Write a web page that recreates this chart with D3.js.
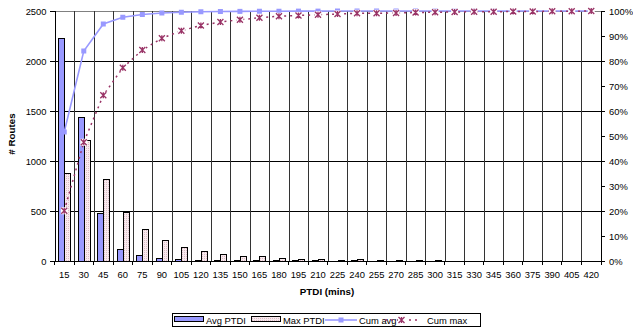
<!DOCTYPE html>
<html>
<head>
<meta charset="utf-8">
<script src="https://cdn.jsdelivr.net/npm/d3@7"></script>
<style>
  body { margin: 0; background: #fff; }
  text { font-family: "Liberation Sans", Arial, sans-serif; fill: #000; }
</style>
</head>
<body>
<svg id="chart" width="633" height="331"></svg>
<script>
// PTDI buckets (mins)
const categories = [15, 30, 45, 60, 75, 90, 105, 120, 135, 150, 165, 180, 195, 210,
  225, 240, 255, 270, 285, 300, 315, 330, 345, 360, 375, 390, 405, 420];

// route counts per bucket
const avgPTDI = [2230, 1437, 477, 120, 57, 27, 17, 6, 4, 3, 2, 2, 1, 1,
  0, 1, 0, 0, 0, 0, 0, 0, 0, 0, 0, 0, 0, 0];
const maxPTDI = [877, 1203, 817, 487, 317, 207, 133, 93, 67, 43, 47, 27, 15, 15,
  5, 15, 5, 5, 5, 5, 0, 0, 0, 0, 0, 0, 0, 0];

// cumulative share (%)
const cumAvg = [51.6, 84, 94.8, 97.5, 98.6, 99.2, 99.5, 99.7, 99.8, 99.85, 99.9, 99.9, 99.95, 99.95,
  100, 100, 100, 100, 100, 100, 100, 100, 100, 100, 100, 100, 100, 100];
const cumMax = [20.1, 47.5, 66.3, 77.3, 84.4, 89.1, 92.1, 94.2, 95.6, 96.5, 97.3, 97.9, 98.2, 98.5,
  98.8, 99.1, 99.1, 99.2, 99.4, 99.5, 99.6, 99.7, 99.7, 99.8, 99.8, 99.9, 99.9, 100];

const leftTicks = [0, 500, 1000, 1500, 2000, 2500];
const rightTicks = d3.range(0, 101, 10);

const svg = d3.select("#chart");
const FONT = 9.4;
const pLeft = 54.5, pRight = 601, pTop = 11, pBottom = 261;

const x = d3.scaleBand().domain(categories).range([pLeft, pRight]).paddingInner(0).paddingOuter(0);
const y = d3.scaleLinear().domain([0, 2500]).range([pBottom, pTop]);
const yPct = d3.scaleLinear().domain([0, 100]).range([pBottom, pTop]);

// dotted pink fill for max bars
const defs = svg.append("defs");
const pat = defs.append("pattern").attr("id", "dots")
  .attr("width", 2).attr("height", 2).attr("patternUnits", "userSpaceOnUse");
pat.append("rect").attr("width", 2).attr("height", 2).attr("fill", "#f8eaee");
pat.append("rect").attr("width", 1).attr("height", 1).attr("fill", "#dcbcc6");

// gridlines
const grid = svg.append("g").attr("shape-rendering", "crispEdges");
grid.selectAll("line.h").data(leftTicks.slice(1)).join("line")
  .attr("x1", pLeft).attr("x2", pRight)
  .attr("y1", d => Math.round(y(d)) + 0.5).attr("y2", d => Math.round(y(d)) + 0.5)
  .attr("stroke", d => d === 2500 ? "#808080" : "#000");
grid.selectAll("line.v").data(categories.slice(1)).join("line")
  .attr("x1", d => Math.round(x(d)) + 0.5).attr("x2", d => Math.round(x(d)) + 0.5)
  .attr("y1", pTop).attr("y2", pBottom)
  .attr("stroke", "#333");

// bars
const bw = 6;
const bars = svg.append("g").attr("shape-rendering", "crispEdges");
bars.selectAll("rect.avg").data(categories).join("rect")
  .attr("x", d => Math.round(x(d) + x.bandwidth() / 2 - bw) + 0.5)
  .attr("y", (d, i) => y(avgPTDI[i]))
  .attr("width", bw)
  .attr("height", (d, i) => pBottom - y(avgPTDI[i]))
  .attr("fill", "#9999ff").attr("stroke", "#000").attr("stroke-width", 1)
  .style("display", (d, i) => avgPTDI[i] > 0 ? null : "none");
bars.selectAll("rect.max").data(categories).join("rect")
  .attr("x", d => Math.round(x(d) + x.bandwidth() / 2) + 0.5)
  .attr("y", (d, i) => y(maxPTDI[i]))
  .attr("width", bw)
  .attr("height", (d, i) => pBottom - y(maxPTDI[i]))
  .attr("fill", "url(#dots)").attr("stroke", "#000").attr("stroke-width", 1)
  .style("display", (d, i) => maxPTDI[i] > 0 ? null : "none");

// axes
const axL = svg.append("g").attr("transform", `translate(${pLeft},0)`)
  .call(d3.axisLeft(y).tickValues(leftTicks).tickSize(5).tickPadding(3).tickFormat(d3.format("d")));
const axR = svg.append("g").attr("transform", `translate(${pRight},0)`)
  .call(d3.axisRight(yPct).tickValues(rightTicks).tickSize(4).tickPadding(4).tickFormat(d => d + "%"));
const axB = svg.append("g").attr("transform", `translate(0,${pBottom})`)
  .call(d3.axisBottom(x).tickSize(0).tickPadding(10));
// boundary ticks for category axis
axB.selectAll("line.bt").data(d3.range(categories.length + 1)).join("line")
  .attr("x1", i => pLeft + i * x.step()).attr("x2", i => pLeft + i * x.step())
  .attr("y1", 0).attr("y2", 4).attr("stroke", "#000");

[axL, axR, axB].forEach(a => {
  a.attr("shape-rendering", "crispEdges");
  a.selectAll("path.domain").attr("stroke", "#000");
  a.selectAll(".tick line").attr("stroke", "#000");
  a.selectAll("text").attr("font-size", FONT).attr("font-family", "Liberation Sans, Arial, sans-serif");
});
axB.selectAll("path.domain").attr("d", `M${pLeft},0.5H${pRight}`);
axL.selectAll("path.domain").attr("d", `M0.5,${pTop}V${pBottom}`);
axR.selectAll("path.domain").attr("d", `M0.5,${pTop}V${pBottom}`);

// lines
const lineGen = d3.line().x((d, i) => x(categories[i]) + x.bandwidth() / 2).y(d => yPct(d));
svg.append("path").datum(cumAvg).attr("d", lineGen)
  .attr("fill", "none").attr("stroke", "#9999ff").attr("stroke-width", 1.6);
svg.append("g").selectAll("rect").data(cumAvg).join("rect")
  .attr("x", (d, i) => x(categories[i]) + x.bandwidth() / 2 - 2.5)
  .attr("y", d => yPct(d) - 2.5)
  .attr("width", 5).attr("height", 5).attr("fill", "#9999ff");

svg.append("path").datum(cumMax).attr("d", lineGen)
  .attr("fill", "none").attr("stroke", "#993366").attr("stroke-width", 1.5)
  .attr("stroke-dasharray", "2,4");

function starMarker(g, cx, cy, r) {
  const p = `M${cx - r},${cy - r}L${cx + r},${cy + r}M${cx - r},${cy + r}L${cx + r},${cy - r}M${cx},${cy - r}L${cx},${cy + r}`;
  g.append("rect").attr("x", cx - r - 0.5).attr("y", cy - r - 0.5).attr("width", 2 * r + 1).attr("height", 2 * r + 1).attr("fill", "#fff");
  g.append("path").attr("d", p).attr("stroke", "#993366").attr("stroke-width", 1.3).attr("fill", "none");
}
const mk = svg.append("g");
cumMax.forEach((d, i) => starMarker(mk, x(categories[i]) + x.bandwidth() / 2, yPct(d), 3));

// titles
svg.append("text").attr("x", 327).attr("y", 295).attr("text-anchor", "middle")
  .attr("font-size", 9.8).attr("font-weight", "bold").text("PTDI (mins)");
svg.append("text").attr("transform", "translate(15,134) rotate(-90)").attr("text-anchor", "middle")
  .attr("font-size", 9.8).attr("font-weight", "bold").text("# Routes");

// legend
const lg = svg.append("g");
lg.append("rect").attr("x", 172.5).attr("y", 313.5).attr("width", 308).attr("height", 13)
  .attr("fill", "#fff").attr("stroke", "#000").attr("shape-rendering", "crispEdges");
const ly = 320;
lg.append("rect").attr("x", 174.5).attr("y", 316.5).attr("width", 29).attr("height", 5)
  .attr("fill", "#9999ff").attr("stroke", "#000").attr("shape-rendering", "crispEdges");
lg.append("text").attr("x", 206).attr("y", ly + 3.5).attr("font-size", FONT).text("Avg PTDI");
lg.append("rect").attr("x", 251.5).attr("y", 316.5).attr("width", 29).attr("height", 5)
  .attr("fill", "url(#dots)").attr("stroke", "#000").attr("shape-rendering", "crispEdges");
lg.append("text").attr("x", 283).attr("y", ly + 3.5).attr("font-size", FONT).text("Max PTDI");
lg.append("line").attr("x1", 325).attr("x2", 357).attr("y1", ly).attr("y2", ly)
  .attr("stroke", "#9999ff").attr("stroke-width", 1.6);
lg.append("rect").attr("x", 338.5).attr("y", ly - 2.5).attr("width", 5).attr("height", 5).attr("fill", "#9999ff");
lg.append("text").attr("x", 359).attr("y", ly + 3.5).attr("font-size", FONT).text("Cum avg");
lg.append("line").attr("x1", 385).attr("x2", 418).attr("y1", ly).attr("y2", ly)
  .attr("stroke", "#993366").attr("stroke-width", 1.5).attr("stroke-dasharray", "2,4");
starMarker(lg, 401.5, ly, 3);
lg.append("text").attr("x", 427).attr("y", ly + 3.5).attr("font-size", FONT).text("Cum max");
</script>
</body>
</html>
